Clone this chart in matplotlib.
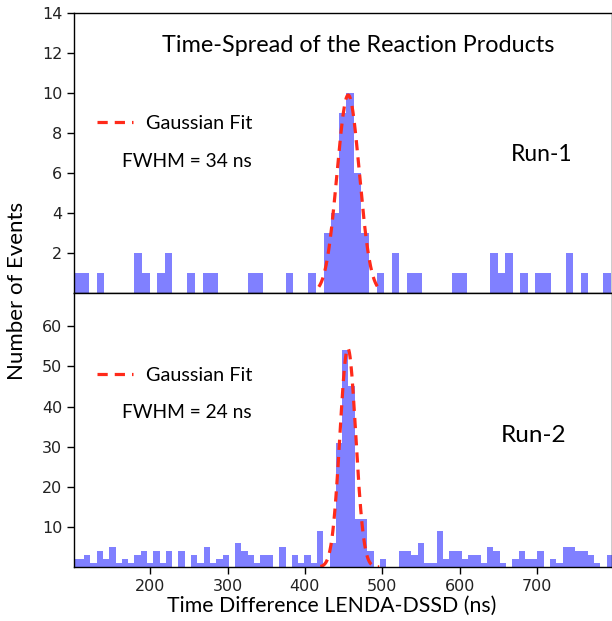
import numpy as np
import matplotlib
matplotlib.use("Agg")
import matplotlib.pyplot as plt

# ---------------- data ----------------
# Run-1 histogram (71 bins)
run1_start = 101.4
run1_width = 9.78
run1_counts = [1, 1, 0, 1, 0, 0, 0, 0, 2, 1,
               0, 1, 2, 0, 0, 1, 0, 1, 1, 0,
               0, 0, 0, 1, 1, 0, 0, 0, 1, 0,
               0, 1, 0, 3, 4, 9, 10, 6, 3, 0,
               1, 0, 2, 0, 1, 1, 0, 0, 0, 0,
               1, 1, 0, 0, 0, 2, 1, 2, 0, 1,
               0, 1, 1, 0, 0, 2, 0, 1, 0, 0,
               1]
# Run-2 histogram (86 bins)
run2_start = 98.2
run2_width = 8.14
run2_counts = [2, 2, 3, 1, 4, 2, 5, 1, 2, 1,
               3, 4, 1, 4, 1, 4, 0, 4, 0, 3,
               1, 5, 1, 2, 3, 0, 6, 4, 3, 1,
               3, 3, 0, 5, 0, 3, 1, 3, 1, 9,
               0, 6, 31, 54, 45, 12, 12, 4, 0, 2,
               0, 0, 4, 4, 3, 6, 1, 1, 9, 2,
               4, 4, 2, 3, 3, 1, 5, 4, 1, 0,
               2, 4, 2, 2, 4, 0, 2, 1, 5, 5,
               4, 4, 3, 1, 0, 3]

# Gaussian fit parameters
fit1_mu, fit1_fwhm, fit1_amp = 456.0, 34.0, 9.9
fit2_mu, fit2_fwhm, fit2_amp = 455.5, 24.0, 54.5
fit1_range = (418.0, 497.0)
fit2_range = (420.0, 496.0)

x_limits = (101.5, 797.0)
x_ticks = [200, 300, 400, 500, 600, 700]
y1_ticks = [2, 4, 6, 8, 10, 12, 14]
y2_ticks = [10, 20, 30, 40, 50, 60]
y1_max = 14
y2_max = 68.3

title_text = "Time-Spread of the Reaction Products"
xlabel_text = "Time Difference LENDA-DSSD (ns)"
ylabel_text = "Number of Events"
legend_text = "Gaussian Fit"
fwhm1_text = "FWHM = 34 ns"
fwhm2_text = "FWHM = 24 ns"
run1_text = "Run-1"
run2_text = "Run-2"

# ---------------- plot ----------------
TXT = "Lato"
bar_color = (0.5, 0.5, 1.0)
fit_color = "#ff2a1a"

fig = plt.figure(figsize=(6.12, 6.21), dpi=100)
ax1 = fig.add_axes([74 / 612, 1 - 293 / 621, 1 - 74 / 612, 280 / 621])
ax2 = fig.add_axes([74 / 612, 1 - 567 / 621, 1 - 74 / 612, 274 / 621], sharex=ax1)


def gauss(x, mu, fwhm, amp):
    s = fwhm / (2 * np.sqrt(2 * np.log(2)))
    return amp * np.exp(-0.5 * ((x - mu) / s) ** 2)


for ax, start, width, counts, (mu, fw, amp), rng in [
    (ax1, run1_start, run1_width, run1_counts, (fit1_mu, fit1_fwhm, fit1_amp), fit1_range),
    (ax2, run2_start, run2_width, run2_counts, (fit2_mu, fit2_fwhm, fit2_amp), fit2_range),
]:
    edges = start + width * np.arange(len(counts) + 1)
    ax.stairs(counts, edges, fill=True, color=bar_color, linewidth=0)
    xf = np.linspace(rng[0], rng[1], 300)
    ax.plot(xf, gauss(xf, mu, fw, amp), linestyle=(0, (3.2, 2.2)), color=fit_color,
            linewidth=2.3, label=legend_text)
    ax.tick_params(axis="both", direction="out", length=5, width=1, labelsize=11.5,
                   colors="black")
    for sp in ax.spines.values():
        sp.set_linewidth(1.0)

ax1.set_xlim(*x_limits)
ax1.set_xticks(x_ticks)
ax1.tick_params(axis="x", labelbottom=False)
ax1.set_ylim(0, y1_max)
ax1.set_yticks(y1_ticks)
ax2.set_ylim(0, y2_max)
ax2.set_yticks(y2_ticks)
for lab in ax1.get_yticklabels() + ax2.get_yticklabels() + ax2.get_xticklabels():
    lab.set_color("#222222")

# legend-like entries
for ax, ly, fwhm_t, fy in [(ax1, 0.607, fwhm1_text, 0.468), (ax2, 0.70, fwhm2_text, 0.565)]:
    ax.legend(loc="center left", bbox_to_anchor=(0.0096, ly), frameon=False,
              handlelength=1.8, handletextpad=0.65, prop={"family": TXT, "size": 14.3})
    ax.text(0.089, fy, fwhm_t, transform=ax.transAxes, family=TXT, fontsize=13.8,
            va="center", ha="left")

ax1.text(0.87, 0.493, run1_text, transform=ax1.transAxes, family=TXT, fontsize=16.5,
         va="center", ha="center")
ax2.text(0.855, 0.48, run2_text, transform=ax2.transAxes, family=TXT, fontsize=17.5,
         va="center", ha="center")
ax1.text(0.528, 0.885, title_text, transform=ax1.transAxes, family=TXT, fontsize=16.8,
         va="center", ha="center")

fig.text(17 / 612, 1 - 291 / 621, ylabel_text, rotation=90, family=TXT, fontsize=16,
         va="center", ha="center")
fig.text(332 / 612, 1 - 606 / 621, xlabel_text, family=TXT, fontsize=15.3,
         va="center", ha="center")

fig.savefig("out.png", dpi=100)
